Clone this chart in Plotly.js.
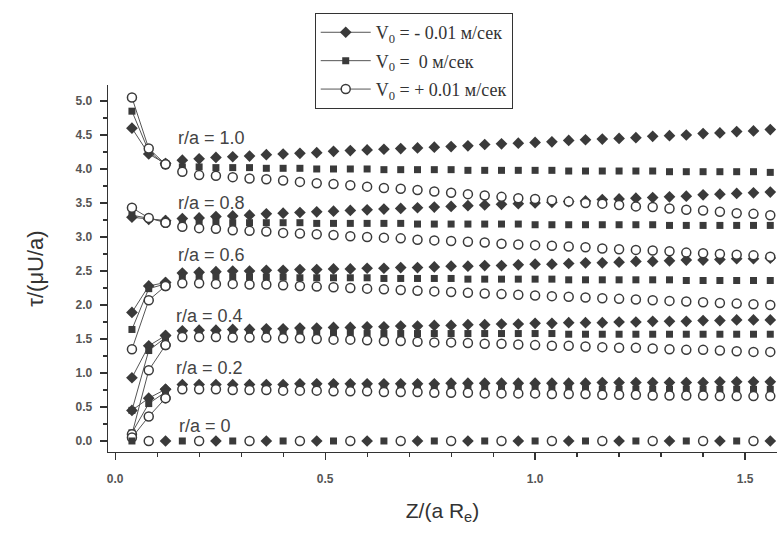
<!DOCTYPE html>
<html>
<head>
<meta charset="utf-8">
<script src="https://cdn.plot.ly/plotly-3.0.1.min.js"></script>
<style>html,body{margin:0;padding:0;background:#fff;}#chart{width:777px;height:534px;}</style>
</head>
<body>
<div id="chart"></div>
<script>
// Z/(a Re) positions
var zPos = [0.04,0.08,0.12,0.16,0.20,0.24,0.28,0.32,0.36,0.40,0.44,0.48,0.52,0.56,0.60,0.64,0.68,0.72,0.76,0.80,0.84,0.88,0.92,0.96,1.00,1.04,1.08,1.12,1.16,1.20,1.24,1.28,1.32,1.36,1.40,1.44,1.48,1.52,1.56];

// r/a = 1.0
var d10 = [4.60,4.22,4.08,4.13,4.15,4.17,4.18,4.19,4.21,4.22,4.23,4.24,4.26,4.27,4.28,4.29,4.30,4.31,4.32,4.33,4.34,4.36,4.37,4.38,4.39,4.40,4.42,4.43,4.44,4.45,4.46,4.48,4.49,4.50,4.52,4.53,4.55,4.56,4.58];
var s10 = [4.85,4.26,4.06,4.03,4.03,4.02,4.02,4.02,4.01,4.01,4.01,4.00,4.00,4.00,4.00,3.99,3.99,3.99,3.99,3.99,3.98,3.98,3.98,3.98,3.98,3.98,3.97,3.97,3.97,3.97,3.97,3.97,3.96,3.96,3.96,3.96,3.96,3.96,3.95];
var c10 = [5.05,4.30,4.07,3.96,3.91,3.90,3.88,3.86,3.85,3.83,3.81,3.79,3.78,3.76,3.74,3.72,3.71,3.69,3.67,3.65,3.63,3.61,3.59,3.57,3.56,3.54,3.52,3.50,3.49,3.47,3.45,3.44,3.42,3.40,3.39,3.37,3.35,3.34,3.32];
// r/a = 0.8
var d08 = [3.29,3.26,3.24,3.27,3.28,3.30,3.31,3.32,3.34,3.35,3.36,3.37,3.38,3.39,3.40,3.41,3.42,3.43,3.44,3.45,3.46,3.47,3.48,3.49,3.50,3.51,3.52,3.53,3.55,3.56,3.57,3.58,3.59,3.60,3.62,3.63,3.64,3.65,3.66];
var s08 = [3.32,3.27,3.23,3.22,3.22,3.22,3.21,3.21,3.21,3.21,3.21,3.20,3.20,3.20,3.20,3.20,3.20,3.19,3.19,3.19,3.19,3.19,3.19,3.19,3.18,3.18,3.18,3.18,3.18,3.18,3.18,3.18,3.17,3.17,3.17,3.17,3.17,3.17,3.17];
var c08 = [3.43,3.28,3.21,3.15,3.13,3.12,3.10,3.09,3.08,3.06,3.05,3.04,3.03,3.01,3.00,2.99,2.98,2.96,2.95,2.94,2.93,2.92,2.90,2.89,2.88,2.87,2.86,2.85,2.83,2.82,2.81,2.80,2.79,2.77,2.76,2.75,2.74,2.73,2.71];
// r/a = 0.6
var d06 = [1.89,2.28,2.33,2.47,2.48,2.49,2.50,2.50,2.51,2.51,2.52,2.52,2.53,2.53,2.54,2.54,2.55,2.55,2.56,2.57,2.57,2.58,2.58,2.59,2.60,2.60,2.61,2.62,2.62,2.63,2.64,2.64,2.65,2.66,2.66,2.67,2.68,2.68,2.69];
var s06 = [1.64,2.24,2.31,2.42,2.42,2.42,2.41,2.41,2.41,2.41,2.40,2.40,2.40,2.40,2.40,2.39,2.39,2.39,2.39,2.39,2.38,2.38,2.38,2.38,2.38,2.38,2.37,2.37,2.37,2.37,2.37,2.37,2.37,2.36,2.36,2.36,2.36,2.36,2.36];
var c06 = [1.35,2.07,2.28,2.32,2.32,2.31,2.31,2.30,2.30,2.29,2.28,2.27,2.26,2.25,2.24,2.23,2.22,2.21,2.20,2.19,2.18,2.17,2.16,2.15,2.14,2.13,2.12,2.11,2.10,2.09,2.08,2.07,2.06,2.05,2.04,2.03,2.02,2.01,2.00];
// r/a = 0.4
var d04 = [0.93,1.40,1.55,1.62,1.63,1.63,1.64,1.64,1.65,1.65,1.66,1.66,1.67,1.67,1.68,1.68,1.69,1.69,1.70,1.70,1.71,1.71,1.72,1.72,1.73,1.73,1.74,1.74,1.74,1.75,1.75,1.76,1.76,1.76,1.77,1.77,1.78,1.78,1.78];
var s04 = [0.45,1.33,1.52,1.59,1.59,1.59,1.59,1.59,1.59,1.59,1.59,1.59,1.58,1.58,1.58,1.58,1.58,1.58,1.58,1.58,1.58,1.58,1.58,1.58,1.58,1.58,1.57,1.57,1.57,1.57,1.57,1.57,1.57,1.57,1.57,1.57,1.57,1.57,1.57];
var c04 = [0.10,1.04,1.41,1.53,1.53,1.53,1.52,1.52,1.52,1.51,1.51,1.50,1.49,1.49,1.48,1.47,1.47,1.46,1.45,1.45,1.44,1.43,1.43,1.42,1.41,1.40,1.40,1.39,1.38,1.37,1.37,1.36,1.35,1.34,1.34,1.33,1.32,1.31,1.31];
// r/a = 0.2
var d02 = [0.45,0.63,0.76,0.83,0.83,0.83,0.83,0.83,0.83,0.83,0.84,0.84,0.84,0.84,0.84,0.84,0.84,0.84,0.84,0.85,0.85,0.85,0.85,0.85,0.85,0.85,0.85,0.85,0.86,0.86,0.86,0.86,0.86,0.86,0.86,0.87,0.87,0.87,0.87];
var s02 = [0.12,0.55,0.72,0.78,0.78,0.78,0.78,0.78,0.78,0.78,0.78,0.78,0.78,0.78,0.77,0.77,0.77,0.77,0.77,0.77,0.77,0.77,0.77,0.77,0.77,0.77,0.77,0.76,0.76,0.76,0.76,0.76,0.76,0.76,0.76,0.76,0.76,0.76,0.76];
var c02 = [0.05,0.36,0.63,0.76,0.76,0.76,0.75,0.75,0.75,0.74,0.74,0.74,0.73,0.73,0.73,0.72,0.72,0.72,0.71,0.71,0.71,0.70,0.70,0.70,0.70,0.69,0.69,0.69,0.68,0.68,0.68,0.67,0.67,0.67,0.67,0.66,0.66,0.66,0.66];
// r/a = 0 (markers alternate between series)
var zS0 = [0.04,0.16,0.28,0.40,0.52,0.64,0.76,0.88,1.00,1.12,1.24,1.36,1.48];
var zC0 = [0.08,0.20,0.32,0.44,0.56,0.68,0.80,0.92,1.04,1.16,1.28,1.40,1.52];
var zD0 = [0.12,0.24,0.36,0.48,0.60,0.72,0.84,0.96,1.08,1.20,1.32,1.44,1.56];
var y0S = [0,0,0,0,0,0,0,0,0,0,0,0,0];
var y0C = [0,0,0,0,0,0,0,0,0,0,0,0,0];
var y0D = [0,0,0,0,0,0,0,0,0,0,0,0,0];

var seriesNames = ["V<sub>0</sub> = - 0.01 м/сек", "V<sub>0</sub> =  0 м/сек", "V<sub>0</sub> = + 0.01 м/сек"];
var curveLabels = ["r/a = 1.0","r/a = 0.8","r/a = 0.6","r/a = 0.4","r/a = 0.2","r/a = 0"];
var labelX = [0.23,0.23,0.23,0.225,0.225,0.215];
var labelY = [4.46,3.50,2.74,1.84,1.07,0.22];
var xTicks = [0,0.5,1.0,1.5];
var xTickText = ["0.0","0.5","1.0","1.5"];
var yTicks = [0,0.5,1,1.5,2,2.5,3,3.5,4,4.5,5];
var yTickText = ["0.0","0.5","1.0","1.5","2.0","2.5","3.0","3.5","4.0","4.5","5.0"];

var ink = "#3a3a3a";
var markerStyles = [
  {symbol:"diamond", size:9, color:ink, line:{width:0}},
  {symbol:"square", size:7, color:ink, line:{width:0}},
  {symbol:"circle", size:9, color:"#ffffff", line:{width:1.5, color:ink}}
];
var groups = [[d10,s10,c10],[d08,s08,c08],[d06,s06,c06],[d04,s04,c04],[d02,s02,c02]];

var traces = [];
for (var s = 0; s < 3; s++) {
  for (var g = 0; g < groups.length; g++) {
    var yy = groups[g][s];
    traces.push({
      x: zPos.slice(2), y: yy.slice(2), mode: "markers", type: "scatter",
      marker: markerStyles[s], showlegend: false, hoverinfo: "x+y"
    });
    traces.push({
      x: zPos.slice(0,3), y: yy.slice(0,3), mode: "lines+markers", type: "scatter",
      line: {color: "#555", width: 1}, marker: markerStyles[s],
      name: seriesNames[s], legendgroup: "g" + s, showlegend: g === 0
    });
  }
}
var zeroX = [zD0, zS0, zC0];
var zeroY = [y0D, y0S, y0C];
for (var s2 = 0; s2 < 3; s2++) {
  traces.push({x: zeroX[s2], y: zeroY[s2], mode: "markers", type: "scatter", marker: markerStyles[s2], showlegend: false});
}

var annotations = [];
for (var i = 0; i < curveLabels.length; i++) {
  annotations.push({x: labelX[i], y: labelY[i], xref: "x", yref: "y", text: curveLabels[i], showarrow: false,
    font: {family: "Liberation Sans, Arial, sans-serif", size: 18, color: "#444"}});
}

var layout = {
  width: 777, height: 534,
  margin: {l: 108, r: 0, t: 85, b: 82},
  paper_bgcolor: "#ffffff", plot_bgcolor: "#ffffff",
  showlegend: true,
  legend: {x: 0.309, y: 1.196, xanchor: "left", yanchor: "top", bordercolor: "#333", borderwidth: 1,
    bgcolor: "#ffffff", itemwidth: 50, traceorder: "grouped", tracegroupgap: 2,
    font: {family: "Liberation Serif, Times New Roman, serif", size: 18, color: "#333"}},
  xaxis: {range: [-0.017, 1.576], tickmode: "array", tickvals: xTicks, ticktext: xTickText,
    ticks: "outside", ticklen: 7, tickwidth: 1.2, tickcolor: "#333",
    minor: {tickmode: "linear", tick0: 0, dtick: 0.1, ticks: "outside", ticklen: 4, tickcolor: "#333"},
    showline: true, linecolor: "#333", linewidth: 1.4, mirror: false, showgrid: false, zeroline: false,
    ticklabelstandoff: 8,
    tickfont: {family: "Liberation Sans, Arial, sans-serif", size: 12, color: "#555", weight: "bold"},
    title: {text: "Z/(a R<sub>e</sub>)", standoff: 18, font: {family: "Liberation Sans, Arial, sans-serif", size: 21, color: "#333"}}},
  yaxis: {range: [-0.162, 5.235], tickmode: "array", tickvals: yTicks, ticktext: yTickText,
    ticks: "outside", ticklen: 7, tickwidth: 1.2, tickcolor: "#333",
    minor: {tickmode: "linear", tick0: 0, dtick: 0.25, ticks: "outside", ticklen: 4, tickcolor: "#333"},
    showline: true, linecolor: "#333", linewidth: 1.4, mirror: false, showgrid: false, zeroline: false,
    ticklabelstandoff: 5,
    tickfont: {family: "Liberation Sans, Arial, sans-serif", size: 12, color: "#555", weight: "bold"},
    title: {text: "τ/(μU/a)", standoff: 26, font: {family: "Liberation Sans, Arial, sans-serif", size: 22, color: "#333"}}},
  annotations: annotations
};

Plotly.newPlot("chart", traces, layout, {displayModeBar: false, staticPlot: true});
</script>
</body>
</html>
